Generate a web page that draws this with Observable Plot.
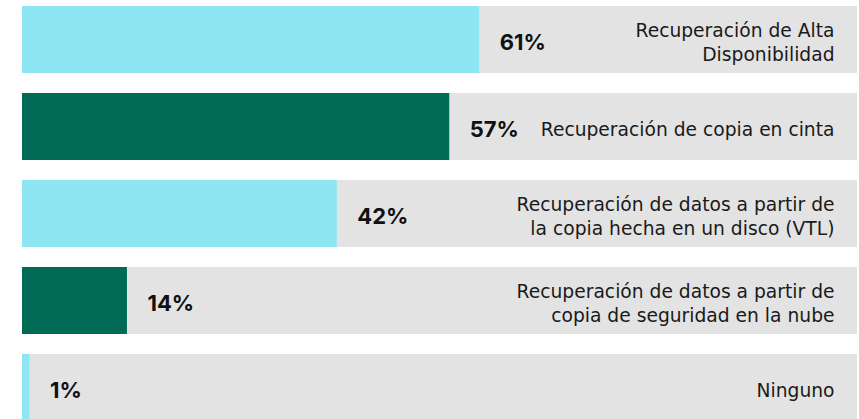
<!DOCTYPE html>
<html>
<head>
<meta charset="utf-8">
<script src="https://cdn.jsdelivr.net/npm/d3@7"></script>
<script src="https://cdn.jsdelivr.net/npm/@observablehq/plot@0.6"></script>
<style>
  html, body { margin: 0; padding: 0; background: #ffffff; overflow: hidden; }
</style>
</head>
<body>
<div id="chart"></div>
<script>
const categories = [
  "Recuperación de Alta\nDisponibilidad",
  "Recuperación de copia en cinta",
  "Recuperación de datos a partir de\nla copia hecha en un disco (VTL)",
  "Recuperación de datos a partir de\ncopia de seguridad en la nube",
  "Ninguno"
];
const values = [61, 57, 42, 14, 1];
const valueLabels = ["61%", "57%", "42%", "14%", "1%"];
const barColors = ["#8ee6f2", "#006a54", "#8ee6f2", "#006a54", "#8ee6f2"];
const trackColor = "#e3e3e3";
const xMax = 111.4;

const data = categories.map((c, i) => ({
  category: c,
  value: values[i],
  label: valueLabels[i],
  key: "k" + i
}));

const chart = Plot.plot({
  width: 859,
  height: 421,
  marginLeft: 22,
  marginRight: 2,
  marginTop: 5,
  marginBottom: 0,
  style: { fontFamily: "'DejaVu Sans', sans-serif", background: "#ffffff" },
  x: { domain: [0, xMax], axis: null },
  y: { domain: categories, axis: null, paddingInner: 0.233, paddingOuter: 0 },
  color: { domain: data.map(d => d.key), range: barColors },
  marks: [
    Plot.barX(data, { y: "category", x1: 0, x2: xMax, fill: trackColor }),
    Plot.barX(data, { y: "category", x1: 0, x2: "value", fill: "key" }),
    Plot.text(data, {
      y: "category", x: "value", text: "label",
      textAnchor: "start", dx: 20, dy: 3,
      fontSize: 22, fontWeight: 700, fill: "#111111",
      fontFamily: "Inter, sans-serif"
    }),
    Plot.text(data, {
      y: "category", text: "category",
      frameAnchor: "right", textAnchor: "end", dx: -23, dy: 1,
      fontSize: 18.7, lineHeight: 1.3, fill: "#1a1a1a"
    })
  ]
});
document.getElementById("chart").appendChild(chart);
</script>
</body>
</html>
